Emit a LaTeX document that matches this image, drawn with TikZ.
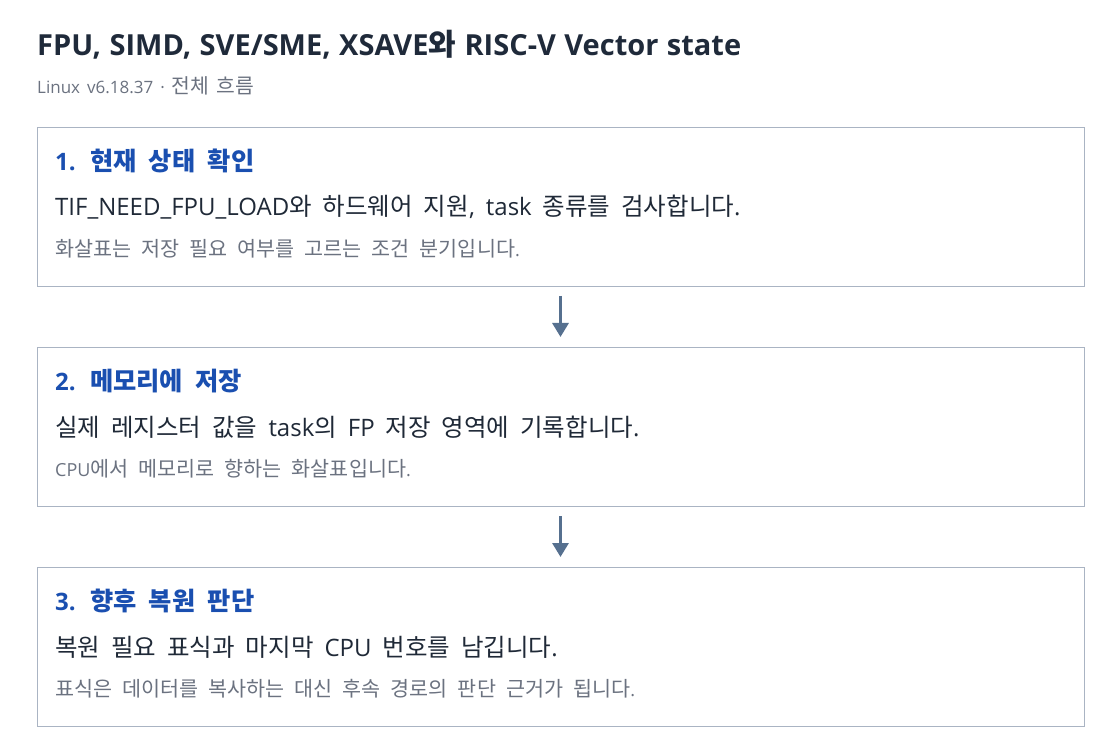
\documentclass[tikz,border=0pt]{standalone}
\usepackage{fontspec}
\setmainfont{Open Sans}
\newfontfamily\hangulfont{Noto Sans CJK KR}
\newcommand\hsw{}
\XeTeXinterchartokenstate=1
\newXeTeXintercharclass\hangulclass
\count255="AC00
\loop
  \XeTeXcharclass\count255=\hangulclass
  \ifnum\count255<"D7A3 \advance\count255 by 1 \repeat
\XeTeXinterchartoks 0 \hangulclass = {\begingroup\hsw\hangulfont}
\XeTeXinterchartoks 4095 \hangulclass = {\begingroup\hsw\hangulfont}
\XeTeXinterchartoks \hangulclass 0 = {\endgroup}
\XeTeXinterchartoks \hangulclass 4095 = {\endgroup}
\newcommand\titlefnt{\fontsize{29}{34}\selectfont\bfseries\def\hsw{\fontsize{30}{34}}\spaceskip=8.5pt plus 2pt minus 1pt\relax}
\newcommand\subfnt{\fontsize{17}{20}\selectfont\def\hsw{\fontsize{20.4}{24}}\spaceskip=7pt plus 2pt minus 1pt\relax}
\newcommand\headfnt{\fontsize{24}{28}\selectfont\bfseries\def\hsw{\fontsize{25.3}{28}}\spaceskip=12.3pt plus 2pt minus 1pt\relax}
\newcommand\bodyfnt{\fontsize{24}{28}\selectfont\def\hsw{\fontsize{24.5}{28}}\spaceskip=11pt plus 2pt minus 1pt\relax}
\newcommand\notefnt{\fontsize{18}{22}\selectfont\def\hsw{\fontsize{20.7}{22}}\spaceskip=10pt plus 2pt minus 1pt\relax}
\usetikzlibrary{arrows.meta}
\definecolor{titlec}{HTML}{1F2A3A}
\definecolor{subc}{HTML}{6B7280}
\definecolor{headc}{HTML}{1A4FB0}
\definecolor{bodyc}{HTML}{1F2937}
\definecolor{notec}{HTML}{6B7280}
\definecolor{boxc}{HTML}{AAB4C3}
\definecolor{arrc}{HTML}{56708F}
\begin{document}
\begin{tikzpicture}[x=1pt,y=-1pt,
  stepbox/.style={draw=boxc,line width=1.2pt,fill=white,minimum width=1047pt,minimum height=159pt,anchor=north west,inner sep=0pt},
  txt/.style={anchor=west,inner sep=0pt},
  titletxt/.style={txt,text=titlec,font=\titlefnt},
  subtxt/.style={txt,text=subc,font=\subfnt},
  headtxt/.style={txt,text=headc,font=\headfnt},
  bodytxt/.style={txt,text=bodyc,font=\bodyfnt},
  notetxt/.style={txt,text=notec,font=\notefnt},
  flow/.style={draw=arrc,line width=3pt,-{Triangle[width=16pt,length=14pt]}}
]
\useasboundingbox[fill=white] (0,0) rectangle (1120,754);
\node[titletxt] (title) at (37,45) {FPU, SIMD, SVE/SME, XSAVE와 RISC-V Vector state};
\node[subtxt] (sub) at (37,86) {Linux v6.18.37 · 전체 흐름};

\node[stepbox] (b1) at (37,127) {};
\node[stepbox] (b2) at (37,347) {};
\node[stepbox] (b3) at (37,567) {};

\node[headtxt] (h1) at (55,161) {1. 현재 상태 확인};
\node[bodytxt] (t1) at (55,207) {TIF\_NEED\_FPU\_LOAD와 하드웨어 지원, task 종류를 검사합니다.};
\node[notetxt] (n1) at (55,249) {화살표는 저장 필요 여부를 고르는 조건 분기입니다.};

\node[headtxt] (h2) at (55,381) {2. 메모리에 저장};
\node[bodytxt] (t2) at (55,427) {실제 레지스터 값을 task의 FP 저장 영역에 기록합니다.};
\node[notetxt] (n2) at (55,469) {CPU에서 메모리로 향하는 화살표입니다.};

\node[headtxt] (h3) at (55,601) {3. 향후 복원 판단};
\node[bodytxt] (t3) at (55,647) {복원 필요 표식과 마지막 CPU 번호를 남깁니다.};
\node[notetxt] (n3) at (55,689) {표식은 데이터를 복사하는 대신 후속 경로의 판단 근거가 됩니다.};

\coordinate (a1s) at (560.5,296);
\coordinate (a1e) at (560.5,337);
\coordinate (a2s) at (560.5,516);
\coordinate (a2e) at (560.5,557);
\draw[flow] (a1s) -- (a1e);
\draw[flow] (a2s) -- (a2e);
\end{tikzpicture}
\end{document}
